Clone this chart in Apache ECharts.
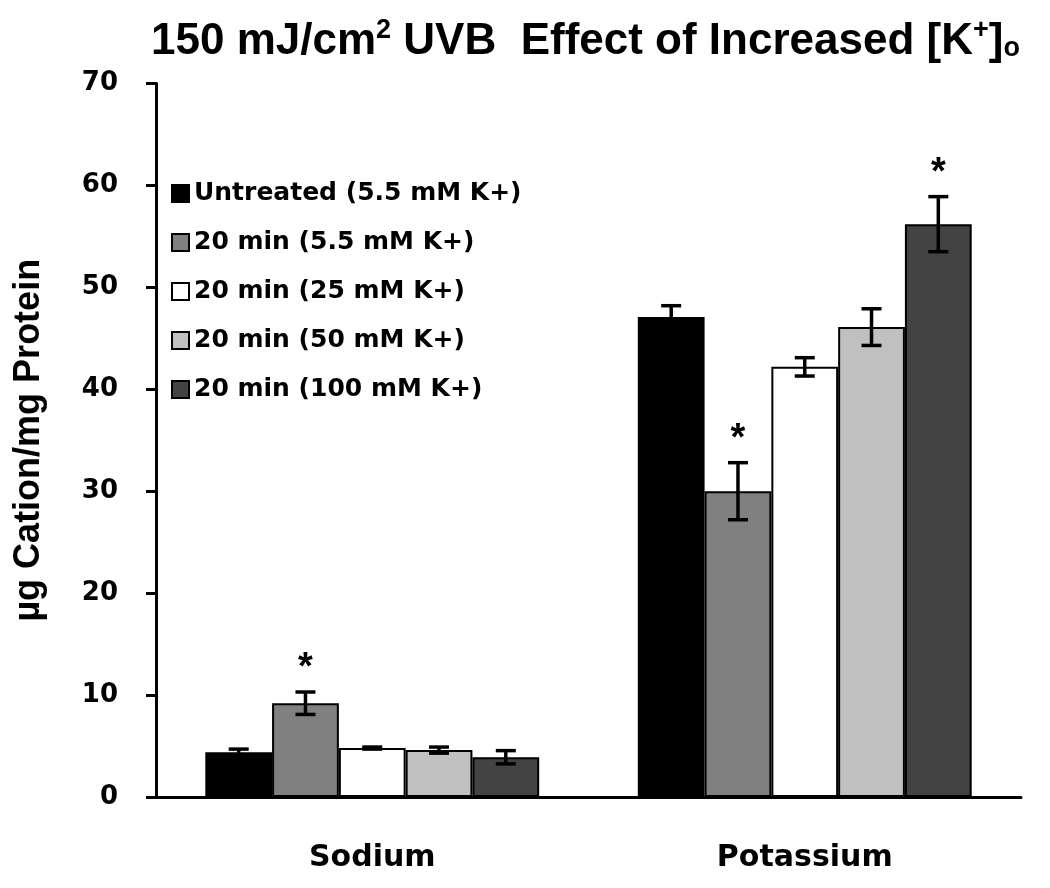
<!DOCTYPE html>
<html>
<head>
<meta charset="utf-8">
<script src="https://cdn.jsdelivr.net/npm/echarts@6/dist/echarts.min.js"></script>
<style>
html,body{margin:0;padding:0;background:#fff;}
#chart{width:1050px;height:888px;}
</style>
</head>
<body>
<div id="chart"></div>
<script>
// ---- data ----
var categories = ['Sodium', 'Potassium'];
var seriesNames = ['Untreated (5.5 mM K+)', '20 min (5.5 mM K+)', '20 min (25 mM K+)', '20 min (50 mM K+)', '20 min (100 mM K+)'];
var seriesColors = ['#000000', '#808080', '#ffffff', '#c0c0c0', '#434343'];
var untreated = [4.4, 47.1];
var min20_5_5 = [9.2, 30.0];
var min20_25 = [4.8, 42.2];
var min20_50 = [4.6, 46.1];
var min20_100 = [3.9, 56.2];
var untreatedErr = [0.3, 1.1];
var min20_5_5Err = [1.1, 2.8];
var min20_25Err = [0.1, 0.9];
var min20_50Err = [0.3, 1.8];
var min20_100Err = [0.65, 2.7];
var untreatedSig = [0, 0];
var min20_5_5Sig = [1, 1];
var min20_25Sig = [0, 0];
var min20_50Sig = [0, 0];
var min20_100Sig = [0, 1];
var yTicks = [0, 10, 20, 30, 40, 50, 60, 70];

var values = [untreated, min20_5_5, min20_25, min20_50, min20_100];
var errs = [untreatedErr, min20_5_5Err, min20_25Err, min20_50Err, min20_100Err];
var sigs = [untreatedSig, min20_5_5Sig, min20_25Sig, min20_50Sig, min20_100Sig];

var CAT_GAP = 0.228;
var nSeries = seriesNames.length;
var WIDE = '"DejaVu Sans", Verdana, sans-serif';
var ARIAL = '"Liberation Sans", Arial, sans-serif';

var chart = echarts.init(document.getElementById('chart'), null, {renderer: 'canvas'});

var series = [];
seriesNames.forEach(function (name, i) {
  series.push({
    name: name,
    type: 'bar',
    data: values[i],
    barGap: '0%',
    barCategoryGap: (CAT_GAP * 100) + '%',
    itemStyle: {color: seriesColors[i], borderColor: '#000', borderWidth: 2},
    emphasis: {disabled: true},
    z: 2
  });
});
seriesNames.forEach(function (name, i) {
  var d = values[i].map(function (v, k) { return [k, v, errs[i][k], sigs[i][k]]; });
  series.push({
    type: 'custom',
    name: name + ' err',
    data: d,
    encode: {x: 0, y: 1},
    z: 5,
    silent: true,
    renderItem: function (params, api) {
      var cat = api.value(0), v = api.value(1), e = api.value(2), s = api.value(3);
      var band = api.size([1, 0])[0];
      var bw = band * (1 - CAT_GAP) / nSeries;
      var c = api.coord([cat, v]);
      var x = c[0] + (i - (nSeries - 1) / 2) * bw;
      var yt = api.coord([cat, v + e])[1];
      var yb = api.coord([cat, v - e])[1];
      var cap = 10;
      var st = {stroke: '#000', lineWidth: 3.5};
      var children = [
        {type: 'line', shape: {x1: x, y1: yt, x2: x, y2: yb}, style: st},
        {type: 'line', shape: {x1: x - cap, y1: yt, x2: x + cap, y2: yt}, style: st},
        {type: 'line', shape: {x1: x - cap, y1: yb, x2: x + cap, y2: yb}, style: st}
      ];
      if (s) {
        children.push({type: 'text', style: {text: '*', x: x, y: yt - 4, align: 'center', verticalAlign: 'bottom', font: 'bold 38px ' + ARIAL, fill: '#000'}});
      }
      return {type: 'group', children: children};
    }
  });
});

var option = {
  backgroundColor: '#fff',
  animation: false,
  title: {
    text: '{t|150 mJ/cm}{sup|2}{t| UVB  Effect of Increased [K}{sup|+}{t|]}{sub|o}',
    left: 146,
    top: 10,
    textStyle: {
      rich: {
        t: {fontFamily: ARIAL, fontWeight: 'bold', fontSize: 44, color: '#000', lineHeight: 54},
        sup: {fontFamily: ARIAL, fontWeight: 'bold', fontSize: 27, color: '#000', lineHeight: 54, padding: [0, 0, 22, 0]},
        sub: {fontFamily: ARIAL, fontWeight: 'bold', fontSize: 27, color: '#000', lineHeight: 54, padding: [14, 0, 0, 0]}
      }
    }
  },
  legend: {
    orient: 'vertical',
    left: 166,
    top: 176,
    itemWidth: 17,
    itemHeight: 17,
    itemGap: 24,
    icon: 'rect',
    data: seriesNames,
    selectedMode: false,
    textStyle: {fontFamily: WIDE, fontWeight: 'bold', fontSize: 25, color: '#000', padding: [0, 0, 0, 0]}
  },
  grid: {left: 156, right: 29, top: 83.5, bottom: 91, containLabel: false},
  xAxis: {
    type: 'category',
    data: categories,
    axisLine: {show: true, lineStyle: {color: '#000', width: 3}},
    axisTick: {show: false},
    axisLabel: {margin: 46, fontFamily: WIDE, fontWeight: 'bold', fontSize: 30, color: '#000'}
  },
  yAxis: {
    type: 'value',
    min: yTicks[0],
    max: yTicks[yTicks.length - 1],
    interval: 10,
    name: 'µg Cation/mg Protein',
    nameLocation: 'middle',
    nameGap: 109,
    nameTextStyle: {fontFamily: ARIAL, fontWeight: 'bold', fontSize: 36, color: '#000'},
    axisLine: {show: true, lineStyle: {color: '#000', width: 3}},
    axisTick: {show: true, inside: false, length: 10, lineStyle: {color: '#000', width: 3}},
    splitLine: {show: false},
    axisLabel: {margin: 38, fontFamily: WIDE, fontWeight: 'bold', fontSize: 26, color: '#000'}
  },
  series: series
};
chart.setOption(option);
</script>
</body>
</html>
